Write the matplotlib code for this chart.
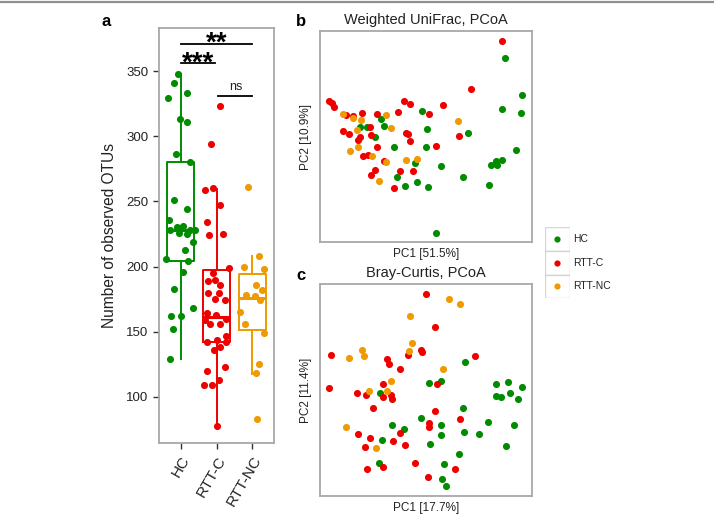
import matplotlib
matplotlib.use("Agg")
import matplotlib.pyplot as plt
from matplotlib.patches import Rectangle
from matplotlib.lines import Line2D

plt.rcParams['font.family'] = ['Liberation Sans', 'DejaVu Sans']

groups = ["HC", "RTT-C", "RTT-NC"]
group_colors = ["#008B00", "#EE0000", "#EE9A00"]

# panel a: observed OTUs per sample, jitter offsets
hc_otus = [348, 341, 333, 329, 313, 311, 286, 280, 251, 244, 236, 230, 231, 228, 226,
           228, 228, 225, 219, 213, 206, 204, 196, 183, 168, 162, 162, 152, 129]
hc_jitter = [-0.08, -0.19, 0.18, -0.34, -0.02, 0.17, -0.13, 0.26, -0.19, 0.18, -0.32, -0.11,
             0.07, -0.30, -0.04, 0.26, 0.41, 0.17, 0.34, 0.12, -0.41, 0.20, 0.07, -0.17,
             0.34, -0.28, 0.01, -0.20, -0.30]
rttc_otus = [323, 294, 259, 260, 247, 234, 224, 225, 199, 195, 190, 189, 186, 180, 180,
             175, 174, 164, 163, 160, 159, 156, 156, 147, 142, 144, 142, 136, 138, 123,
             120, 113, 109, 109, 78]
rttc_jitter = [0.09, -0.14, -0.31, -0.10, 0.10, -0.27, -0.22, 0.17, 0.34, -0.10, -0.03, -0.23,
               0.09, -0.23, 0.07, -0.03, 0.24, -0.27, -0.01, 0.25, -0.31, -0.19, 0.09, 0.26,
               -0.26, 0.00, 0.26, -0.08, 0.09, 0.24, -0.26, 0.06, -0.35, -0.13, 0.02]
rttnc_otus = [261, 208, 200, 198, 186, 182, 178, 177, 174, 165, 156, 149, 125, 118, 83]
rttnc_jitter = [-0.12, 0.18, -0.23, 0.31, 0.09, 0.27, -0.18, 0.07, 0.22, -0.36, -0.21, 0.31,
                0.18, 0.10, 0.14]

# box statistics: lower whisker, Q1, median, Q3, upper whisker
hc_box = [129, 204, 228, 280, 348]
rttc_box = [78, 142, 161.5, 197.5, 259.5]
rttnc_box = [117.5, 151, 175.5, 194, 208]

# significance brackets
sig_labels = ["**", "***", "ns"]
sig_left = [1, 1, 2.05]
sig_right = [3, 1.96, 3]
sig_height = [371, 356, 331]

# panel b: weighted UniFrac PCoA
wu_hc_pc1 = [-0.190, -0.170, -0.127, -0.117, -0.146, -0.087, -0.003, 0.010, 0.008, -0.025,
             -0.080, -0.054, -0.020, 0.014, 0.053, 0.120, 0.134, 0.039, 0.197, 0.204, 0.217,
             0.222, 0.236, 0.277, 0.235, 0.293, 0.295, 0.244]
wu_hc_pc2 = [0.110, 0.110, 0.132, 0.112, 0.080, 0.049, 0.158, 0.103, 0.048, 0.000, -0.040,
             -0.069, -0.055, -0.071, -0.007, -0.042, 0.091, -0.208, -0.065, -0.004, 0.007,
             -0.005, 0.010, 0.039, 0.162, 0.152, 0.205, 0.315]
wu_rttc_pc1 = [-0.282, -0.274, -0.267, -0.232, -0.210, -0.184, -0.138, -0.075, -0.058, -0.039,
               0.016, 0.060, 0.144, 0.237, -0.242, -0.223, -0.190, -0.196, -0.160, -0.157,
               -0.182, -0.167, -0.139, -0.051, -0.047, -0.039, -0.117, -0.145, -0.157, -0.088,
               -0.070, -0.030, 0.038, 0.106]
wu_rttc_pc2 = [0.187, 0.180, 0.168, 0.144, 0.142, 0.150, 0.147, 0.154, 0.188, 0.177, 0.148,
               0.175, 0.224, 0.368, 0.097, 0.088, 0.080, 0.070, 0.108, 0.086, 0.023, 0.024,
               0.050, 0.090, 0.087, 0.068, 0.008, -0.020, -0.036, -0.074, -0.024, -0.023,
               0.051, 0.082]
wu_rttnc_pc1 = [-0.242, -0.210, -0.187, -0.113, -0.198, -0.098, -0.220, -0.196, -0.153, -0.112,
                -0.051, -0.020, -0.134, 0.104]
wu_rttnc_pc2 = [0.147, 0.135, 0.130, 0.145, 0.100, 0.107, 0.037, 0.048, 0.022, 0.004, 0.010,
                0.014, -0.053, 0.128]

# panel c: Bray-Curtis PCoA
bc_hc_pc1 = [0.124, 0.018, 0.052, -0.129, -0.007, -0.095, -0.059, 0.054, 0.053, 0.020, 0.120,
             0.122, 0.167, 0.195, -0.125, -0.132, 0.063, 0.106, 0.057, 0.067, 0.219, 0.255,
             0.296, 0.218, 0.234, 0.260, 0.285, 0.273, 0.249]
bc_hc_pc2 = [0.095, 0.031, 0.038, 0.000, -0.073, -0.094, -0.106, -0.095, -0.126, -0.153,
             -0.045, -0.115, -0.123, -0.087, -0.140, -0.209, -0.212, -0.182, -0.256, -0.278,
             0.028, 0.033, 0.018, -0.008, -0.010, 0.000, -0.017, -0.094, -0.158]
bc_rttc_pc1 = [0.009, 0.034, -0.277, -0.108, -0.102, -0.070, -0.045, -0.008, -0.004, 0.156,
               -0.282, -0.198, -0.171, -0.120, -0.120, -0.098, -0.094, -0.150, 0.042, 0.035,
               0.017, 0.018, 0.110, -0.195, -0.160, -0.174, -0.090, -0.070, -0.055, -0.170,
               -0.122, -0.026, 0.014, 0.096]
bc_rttc_pc2 = [0.299, 0.199, 0.114, 0.104, 0.087, 0.073, 0.114, 0.130, 0.123, 0.111, 0.017,
               0.000, -0.005, 0.027, -0.011, -0.005, -0.017, -0.044, 0.028, -0.054, -0.090,
               -0.100, -0.078, -0.121, -0.134, -0.162, -0.142, -0.118, -0.156, -0.226, -0.220,
               -0.208, -0.250, -0.226]
bc_rttnc_pc1 = [0.078, 0.110, -0.039, -0.034, -0.042, -0.183, -0.177, -0.224, 0.060, -0.098,
                -0.163, -0.108, -0.232, -0.141]
bc_rttnc_pc2 = [0.282, 0.268, 0.231, 0.150, 0.126, 0.131, 0.111, 0.107, 0.072, 0.038, 0.007,
                0.006, -0.101, -0.164]

border_color = "#a8a8a8"
text_color = "#222222"


def style_frame(ax):
    for side in ax.spines.values():
        side.set_color(border_color)
        side.set_linewidth(1.3)


def draw_boxplot(ax):
    otus = [hc_otus, rttc_otus, rttnc_otus]
    jitter = [hc_jitter, rttc_jitter, rttnc_jitter]
    boxes = [hc_box, rttc_box, rttnc_box]
    for i, (vals, jit, box, col) in enumerate(zip(otus, jitter, boxes, group_colors)):
        pos = i + 1
        stats = [dict(whislo=box[0], q1=box[1], med=box[2], q3=box[3], whishi=box[4],
                      fliers=[])]
        ax.bxp(stats, positions=[pos], widths=0.75, showcaps=False, showfliers=False,
               boxprops=dict(color=col, linewidth=1.4),
               whiskerprops=dict(color=col, linewidth=1.4),
               medianprops=dict(color=col, linewidth=2.2))
        ax.scatter([pos + j for j in jit], vals, s=26, color=col, linewidths=0, zorder=3)

    for lab, x0, x1, h in zip(sig_labels, sig_left, sig_right, sig_height):
        ax.plot([x0, x1], [h, h], color="black", linewidth=1.3)
        if lab == "ns":
            ax.annotate(lab, xy=((x0 + x1) / 2, h), xytext=(0, 2), textcoords="offset points",
                        ha="center", va="bottom", fontsize=9, color=text_color)
        else:
            ax.annotate(lab, xy=((x0 + x1) / 2, h), xytext=(0, -5), textcoords="offset points",
                        ha="center", va="baseline", fontsize=20, fontweight="bold",
                        color="black")

    ax.set_xlim(0.4, 3.6)
    ax.set_ylim(64.6, 383)
    ax.set_xticks([1, 2, 3])
    ax.set_xticklabels(groups, rotation=60, ha="right", rotation_mode="anchor",
                       fontsize=11, color=text_color)
    ax.set_yticks([100, 150, 200, 250, 300, 350])
    ax.tick_params(axis="y", labelsize=9.5, colors=text_color)
    ax.tick_params(length=4, width=1, color="#333333")
    ax.set_ylabel("Number of observed OTUs", fontsize=11.2, color=text_color, labelpad=7)
    style_frame(ax)


def draw_pcoa(ax, data, title, xlab, ylab):
    for (pc1, pc2), col in zip(data, group_colors):
        ax.scatter(pc1, pc2, s=26, color=col, linewidths=0)
    ax.set_xlim(-0.31, 0.325)
    ax.set_xticks([])
    ax.set_yticks([])
    ax.set_title(title, fontsize=10.5, color=text_color, pad=5)
    ax.set_xlabel(xlab, fontsize=8.5, color=text_color, labelpad=4)
    ax.set_ylabel(ylab, fontsize=8.5, color=text_color, labelpad=6)
    style_frame(ax)


fig = plt.figure(figsize=(7.14, 5.16), dpi=100)
ax_a = fig.add_axes([0.2227, 0.1415, 0.1611, 0.8042])
ax_b = fig.add_axes([0.4482, 0.5310, 0.2965, 0.4089])
ax_c = fig.add_axes([0.4482, 0.0388, 0.2965, 0.4109])

draw_boxplot(ax_a)
draw_pcoa(ax_b, [(wu_hc_pc1, wu_hc_pc2), (wu_rttc_pc1, wu_rttc_pc2), (wu_rttnc_pc1, wu_rttnc_pc2)],
          "Weighted UniFrac, PCoA", "PC1 [51.5%]", "PC2 [10.9%]")
ax_b.set_ylim(-0.236, 0.397)
draw_pcoa(ax_c, [(bc_hc_pc1, bc_hc_pc2), (bc_rttc_pc1, bc_rttc_pc2), (bc_rttnc_pc1, bc_rttnc_pc2)],
          "Bray-Curtis, PCoA", "PC1 [17.7%]", "PC2 [11.4%]")
ax_c.set_ylim(-0.308, 0.328)

# legend with boxed keys
lax = fig.add_axes([545 / 714, 1 - 298.3 / 516, 24.7 / 714, 71 / 516])
lax.set_xlim(0, 1)
lax.set_ylim(0, 3)
lax.axis("off")
for i, (lab, col) in enumerate(zip(groups, group_colors)):
    y = 2 - i
    lax.add_patch(Rectangle((0, y), 1, 1, facecolor="white", edgecolor="#d6d6d6", linewidth=1))
    lax.scatter([0.5], [y + 0.5], s=20, color=col, linewidths=0)
    lax.text(1.12, y + 0.5, lab, fontsize=7.5, va="center", ha="left", color=text_color)

# panel letters
fig.text(106 / 714, 1 - 21.5 / 516, "a", fontsize=12, fontweight="bold", ha="center", va="center")
fig.text(301 / 714, 1 - 21.5 / 516, "b", fontsize=12, fontweight="bold", ha="center", va="center")
fig.text(301 / 714, 1 - 275.5 / 516, "c", fontsize=12, fontweight="bold", ha="center", va="center")

# thin frame line along the top edge
fig.add_artist(Line2D([0, 1], [1 - 1.8 / 516, 1 - 1.8 / 516], color="#909090", linewidth=1.6))

fig.savefig("out.png", dpi=100)
